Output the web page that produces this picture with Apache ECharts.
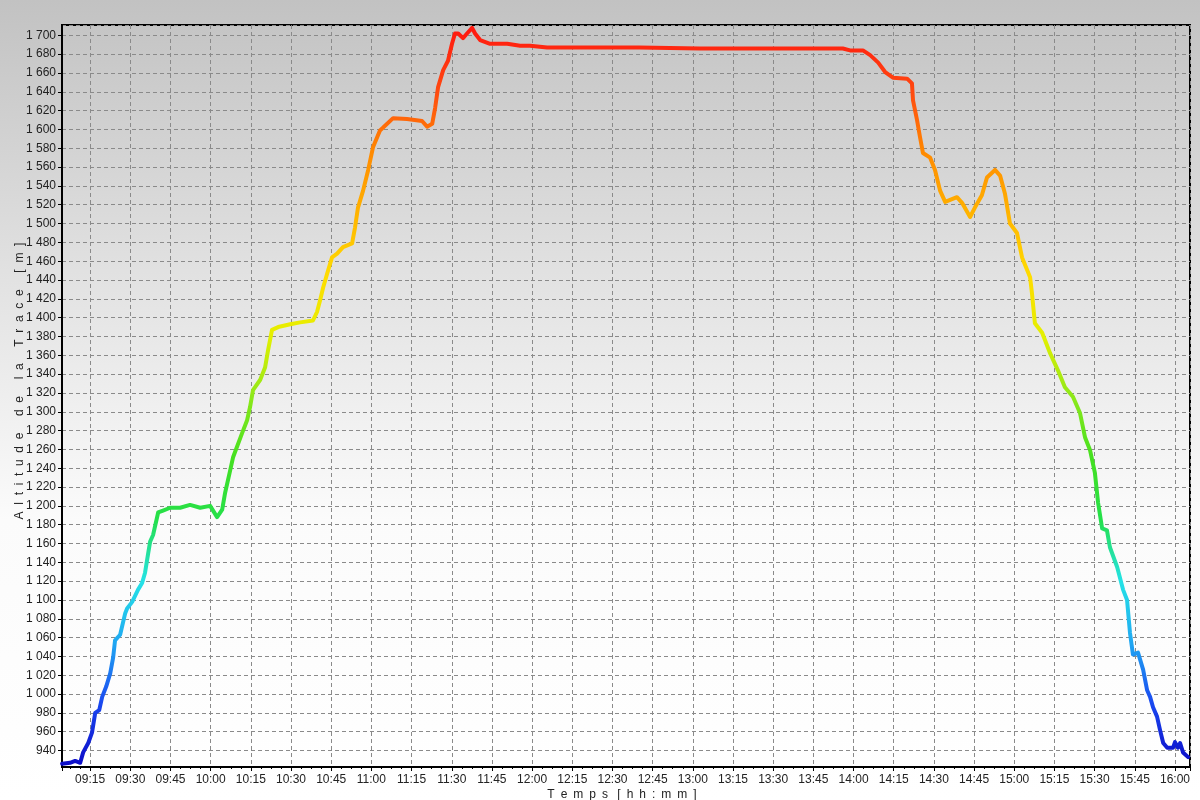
<!DOCTYPE html>
<html>
<head>
<meta charset="utf-8">
<script src="https://cdn.jsdelivr.net/npm/echarts@6/dist/echarts.min.js"></script>
<style>
html,body{margin:0;padding:0;width:1200px;height:800px;overflow:hidden;}
#chart{width:1200px;height:800px;}
</style>
</head>
<body>
<div id="chart"></div>
<script>
// Track time stamps (hh:mm:ss)
const times = [
"09:04:33","09:07:30","09:09:24","09:11:18","09:12:24","09:14:18","09:15:42","09:16:54","09:18:24","09:19:30",
"09:21:00","09:22:30","09:23:36","09:24:18","09:26:12","09:28:06","09:28:48","09:30:42","09:32:54","09:34:24",
"09:35:30","09:36:42","09:37:24","09:38:30","09:40:24","09:42:12","09:44:54","09:48:36","09:52:18","09:56:06",
"09:59:48","10:02:24","10:04:18","10:05:24","10:07:18","10:08:24","10:11:42","10:13:36","10:14:42","10:15:48",
"10:18:30","10:20:18","10:21:24","10:22:54","10:25:12","10:29:42","10:33:24","10:38:12","10:39:42","10:40:54",
"10:42:00","10:43:30","10:45:18","10:47:12","10:49:24","10:52:48","10:53:54","10:55:00","10:56:54","10:58:48",
"11:00:36","11:03:12","11:04:24","11:08:06","11:13:18","11:18:54","11:20:48","11:22:42","11:23:48","11:24:54",
"11:26:48","11:28:36","11:30:06","11:31:12","11:32:24","11:34:12","11:35:42","11:37:36","11:38:42","11:40:36",
"11:44:18","11:50:42","11:55:30","11:59:12","12:05:36","12:17:54","12:40:00","13:02:42","13:20:00","13:40:00",
"13:56:00","13:58:42","14:03:30","14:06:12","14:09:12","14:11:48","14:14:42","14:20:00","14:21:48","14:22:12",
"14:23:42","14:24:48","14:25:54","14:28:36","14:30:24","14:32:18","14:34:12","14:38:36","14:40:30","14:43:30",
"14:45:18","14:47:54","14:49:48","14:52:48","14:54:42","14:56:30","14:58:24","15:01:00","15:02:54","15:05:54",
"15:06:36","15:07:42","15:10:24","15:13:24","15:16:18","15:18:54","15:21:54","15:24:30","15:26:24","15:28:18",
"15:30:06","15:31:18","15:32:48","15:34:36","15:35:42","15:38:24","15:40:36","15:42:06","15:43:12","15:44:18",
"15:46:12","15:48:06","15:49:36","15:50:42","15:51:48","15:53:18","15:54:24","15:55:36","15:57:06","15:59:18",
"16:00:00","16:01:06","16:01:54","16:03:00","16:04:54"
];
// Altitude of the track [m]
const altitude = [
926,927,929,927,938,948,959,980,983,997,
1008,1022,1039,1057,1063,1086,1091,1098,1111,1118,
1129,1150,1162,1169,1193,1195,1198,1198,1201,1198,
1200,1188,1196,1214,1238,1252,1277,1291,1305,1323,
1334,1347,1365,1387,1390,1393,1395,1397,1406,1419,
1432,1447,1464,1468,1475,1479,1496,1517,1535,1557,
1581,1599,1602,1612,1611,1609,1603,1606,1623,1645,
1663,1673,1691,1702,1702,1697,1702,1708,1702,1695,
1691,1691,1689,1689,1687,1687,1687,1686,1686,1686,
1686,1684,1684,1679,1671,1661,1655,1654,1649,1631,
1610,1592,1575,1570,1557,1535,1523,1528,1522,1507,
1517,1530,1549,1557,1551,1532,1500,1490,1464,1443,
1426,1394,1384,1362,1344,1326,1316,1299,1273,1259,
1235,1203,1176,1174,1156,1135,1111,1100,1065,1042,
1044,1026,1004,997,986,976,962,948,943,943,
949,943,948,938,933
];
// Jet-like colour ramp along altitude
const colorRamp = ["#0c0cc8","#1a48f0","#20a8f2","#24e2e6","#24e04c","#44e020","#8ce81a","#e4f000","#ffdc00","#ffb400","#ff8a00","#ff4a10","#ff1a10"];

// Axis titles (letter-spaced as in the original)
const xTitle = "T\u2002e\u2002m\u2002p\u2002s\u2002 [\u2002h\u2002h\u2002:\u2002m\u2002m\u2002]";
const yTitle = "A  l  t  i  t  u  d  e     d  e     l  a     T  r  a  c  e     [  m  ]";

function toMin(s){const p=s.split(':').map(Number);return p[0]*60+p[1]+(p[2]||0)/60;}
function fmtTime(v){const h=Math.floor(v/60),m=Math.round(v-h*60);return (h<10?'0':'')+h+':'+(m<10?'0':'')+m;}
function fmtAlt(v){const s=String(Math.round(v));return s.length>3?s.slice(0,s.length-3)+' '+s.slice(-3):s;}

const data = times.map((t,i)=>[toMin(t), altitude[i]]);

const chart = echarts.init(document.getElementById('chart'), null, {renderer:'canvas'});
const font = 'Liberation Sans, Arial, sans-serif';
chart.setOption({
  animation:false,
  backgroundColor:{type:'linear',x:0,y:0,x2:0,y2:1,colorStops:[
    {offset:0,color:'#c2c2c2'},{offset:0.35,color:'#e2e2e2'},{offset:0.65,color:'#fbfbfb'},{offset:1,color:'#ffffff'}]},
  grid:{left:62,right:10,top:25,bottom:33,outerBoundsMode:'none',containLabel:false,show:true,borderColor:'#000',borderWidth:2,backgroundColor:'transparent'},
  visualMap:{show:false,type:'continuous',dimension:1,min:925,max:1705,inRange:{color:colorRamp}},
  xAxis:{
    type:'value',min:544.5,max:965.6,minInterval:15,maxInterval:15,splitNumber:28,
    name:xTitle,nameLocation:'middle',nameGap:22,nameMoveOverlap:false,
    nameTextStyle:{color:'#222',fontSize:12,fontFamily:font,padding:[0,8,0,0]},
    axisLine:{show:true,lineStyle:{color:'#000',width:2}},
    axisTick:{show:true,length:4,lineStyle:{color:'#000'}},
    minorTick:{show:true,splitNumber:4,length:2,lineStyle:{color:'#000'}},
    axisLabel:{showMinLabel:false,showMaxLabel:false,color:'#222',fontSize:12,fontFamily:font,margin:7,formatter:fmtTime},
    splitLine:{show:true,lineStyle:{color:'#8a8a8a',width:1,type:[4,3]}}
  },
  yAxis:{
    type:'value',min:922.5,max:1711,minInterval:20,maxInterval:20,splitNumber:40,
    name:yTitle,nameLocation:'middle',nameGap:36,nameRotate:90,nameMoveOverlap:false,
    nameTextStyle:{color:'#222',fontSize:12,fontFamily:font,padding:[0,0,0,30]},
    axisLine:{show:true,lineStyle:{color:'#000',width:2}},
    axisTick:{show:true,length:4,lineStyle:{color:'#000'}},
    axisLabel:{showMinLabel:false,showMaxLabel:false,color:'#222',fontSize:12,fontFamily:font,margin:6,formatter:fmtAlt},
    splitLine:{show:true,lineStyle:{color:'#8a8a8a',width:1,type:[4,3]}}
  },
  series:[{
    type:'line',data:data,showSymbol:false,smooth:false,
    lineStyle:{width:4,cap:'round',join:'round'}
  }]
});
</script>
</body>
</html>
